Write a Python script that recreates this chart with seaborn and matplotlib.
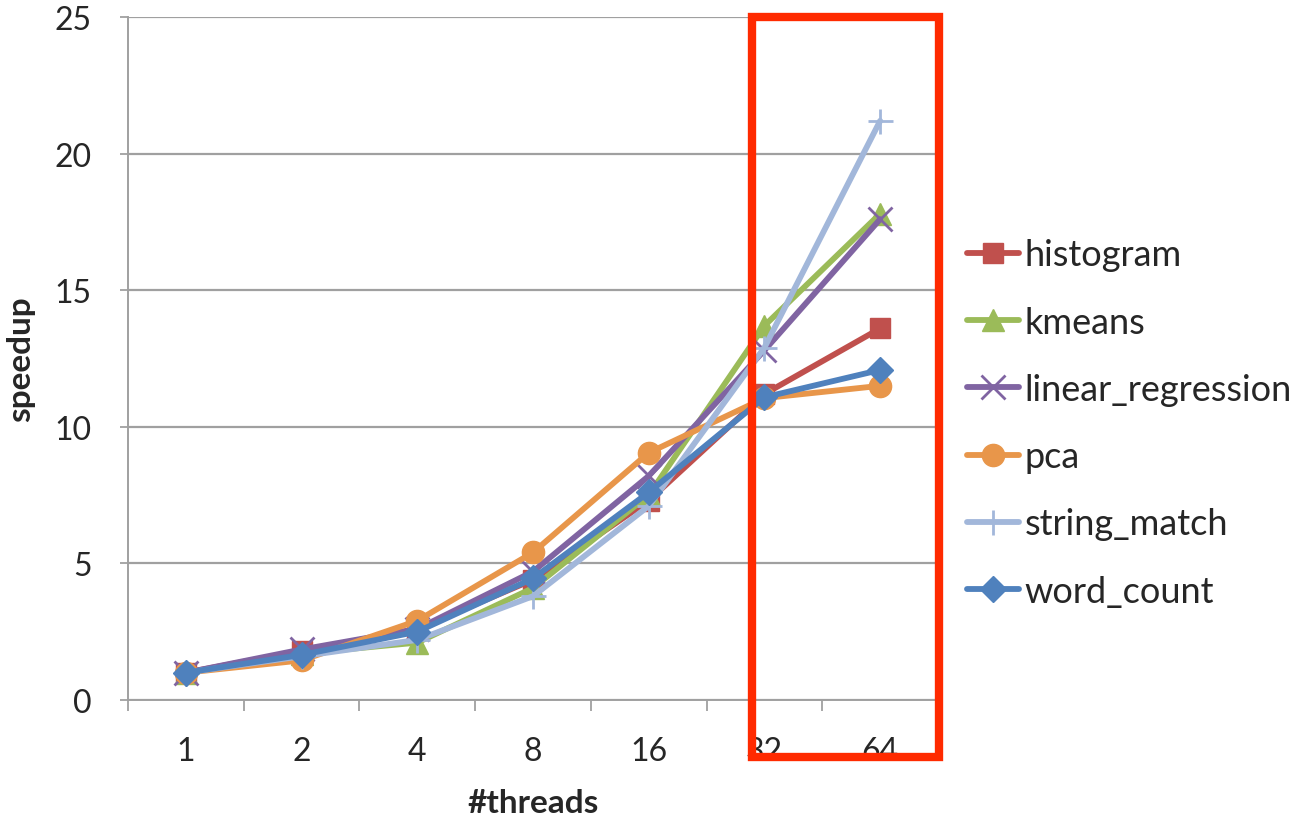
import matplotlib
matplotlib.use("Agg")
import matplotlib.pyplot as plt
from matplotlib.patches import Rectangle
from matplotlib.ticker import FixedLocator, MultipleLocator
import seaborn as sns
import pandas as pd

threads = ["1", "2", "4", "8", "16", "32", "64"]
histogram = [1.0, 1.8, 2.6, 4.4, 7.3, 11.2, 13.6]
kmeans = [1.0, 1.7, 2.1, 4.1, 7.5, 13.7, 17.8]
linear_regression = [1.0, 1.85, 2.6, 4.7, 8.2, 12.8, 17.6]
pca = [1.0, 1.45, 2.9, 5.4, 9.05, 11.05, 11.5]
string_match = [1.0, 1.6, 2.2, 3.8, 7.1, 12.9, 21.2]
word_count = [1.0, 1.65, 2.5, 4.45, 7.6, 11.08, 12.08]

series = {
    "histogram": histogram,
    "kmeans": kmeans,
    "linear_regression": linear_regression,
    "pca": pca,
    "string_match": string_match,
    "word_count": word_count,
}
colors = {
    "histogram": "#C0504D",
    "kmeans": "#9BBB59",
    "linear_regression": "#8064A2",
    "pca": "#E8964A",
    "string_match": "#A2B7DA",
    "word_count": "#4F81BD",
}
markers = {
    "histogram": "s",
    "kmeans": "^",
    "linear_regression": "x",
    "pca": "o",
    "string_match": "+",
    "word_count": "D",
}
marker_sizes = {
    "histogram": 15,
    "kmeans": 16,
    "linear_regression": 17,
    "pca": 16,
    "string_match": 18,
    "word_count": 13,
}

rows = []
for name, vals in series.items():
    for i, (t, v) in enumerate(zip(threads, vals)):
        rows.append({"pos": i, "threads": t, "speedup": v, "bench": name})
df = pd.DataFrame(rows)

sns.set_theme(style="white")
plt.rcParams["font.family"] = ["Lato", "DejaVu Sans"]

fig = plt.figure(figsize=(12.94, 8.2), dpi=100)
ax = fig.add_axes([128 / 1294, 1 - 701 / 820, (938 - 128) / 1294, (701 - 18) / 820])

for name in series:
    sub = df[df["bench"] == name]
    line_art = markers[name] in ("x", "+")
    sns.lineplot(
        data=sub, x="pos", y="speedup", color=colors[name], marker=markers[name],
        linewidth=4.2, markersize=marker_sizes[name],
        markeredgewidth=2.0 if line_art else 1.0, markeredgecolor=colors[name],
        label=name, ax=ax,
    )

ax.set_xlim(-0.5, 6.5)
ax.set_ylim(0, 25)
ax.yaxis.set_major_locator(MultipleLocator(5))
ax.grid(axis="y", color="#A0A0A0", linewidth=1.6)
ax.grid(axis="x", visible=False)
ax.set_axisbelow(True)

ax.xaxis.set_major_locator(FixedLocator(range(len(threads))))
ax.set_xticklabels(threads)
ax.xaxis.set_minor_locator(FixedLocator([k - 0.5 for k in range(len(threads) + 1)]))
ax.tick_params(axis="x", which="major", length=0, pad=26, labelsize=23)
ax.tick_params(axis="x", which="minor", length=8, width=1.3, color="#A0A0A0", direction="out", bottom=True)
ax.tick_params(axis="y", which="major", length=6, width=1.3, color="#A0A0A0", direction="out", left=True, pad=20, labelsize=23)

for side in ("top", "right"):
    ax.spines[side].set_visible(False)
for side in ("left", "bottom"):
    ax.spines[side].set_color("#A0A0A0")
    ax.spines[side].set_linewidth(1.4)

ax.set_xlabel("#threads", fontsize=24, fontweight="bold", labelpad=16)
ax.set_ylabel("speedup", fontsize=24, fontweight="bold", labelpad=14)

handles, labels = ax.get_legend_handles_labels()
leg = ax.legend(
    handles, labels, loc="center left", bbox_to_anchor=(967 / 1294, 1 - 424 / 820),
    bbox_transform=fig.transFigure, frameon=False, fontsize=26, borderpad=0,
    handlelength=1.45, handletextpad=0.15, labelspacing=0.95, borderaxespad=0,
)

# highlight box around the two widest thread counts
ax.add_patch(Rectangle((4.89, -2.09), 1.62, 27.09, fill=False, edgecolor="#FF2A00",
                       linewidth=6, clip_on=False, zorder=10))

fig.savefig("out.png", dpi=100)
